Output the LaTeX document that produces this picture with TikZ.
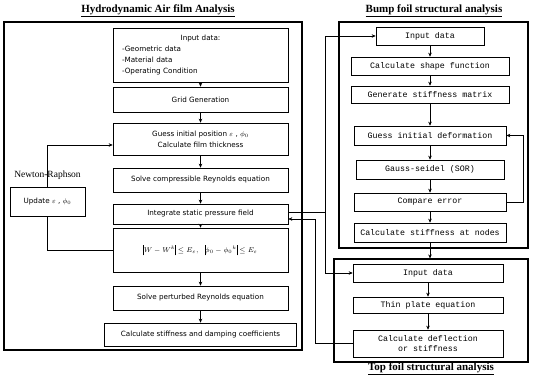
\documentclass[tikz,border=0pt]{standalone}
\usepackage{fontspec}
\setmainfont{Liberation Serif}
\newfontfamily\lboxfont{DejaVu Sans}
\newfontfamily\rboxfont{Liberation Mono}
\usetikzlibrary{arrows.meta}
\newcommand{\normbar}{\mathord{\rule[-2.5pt]{0.4pt}{10.5pt}}}

\begin{document}
\begin{tikzpicture}[x=1pt, y=-1pt,
  sz/.style 2 args={minimum width=#1pt, minimum height=#2pt},
  lbox/.style={draw, line width=0.6pt, inner sep=1pt, align=center,
    font=\lboxfont\fontsize{7.2}{11}\selectfont},
  rbox/.style={draw, line width=0.6pt, inner sep=1pt, align=center,
    font=\rboxfont\fontsize{8.3}{10}\selectfont},
  frame/.style={draw, line width=1.1pt, inner sep=0pt},
  title/.style={font=\bfseries\fontsize{11}{13}\selectfont},
  arr/.style={-{Stealth[length=4pt,width=3.5pt]}, line width=0.7pt},
  link/.style={line width=0.7pt}]
  \useasboundingbox (0,0) rectangle (533,377);

  % Frames and titles
  \node[frame, sz={298}{328}] (hframe) at (153,186) {};
  \node[frame, sz={189}{226}] (bframe) at (433.5,135) {};
  \node[frame, sz={194}{103}] (tframe) at (431,310.5) {};
  \node[title] (htitle) at (158,11) {\underline{Hydrodynamic Air film Analysis}};
  \node[title] (btitle) at (434,11) {\underline{Bump foil structural analysis}};
  \node[title] (ttitle) at (431,369) {\underline{Top foil structural analysis}};

  % Air film analysis
  \node[lbox, sz={175}{54}, text width=157pt, align=left] (inp) at (200.5,55)
    {\makebox[157pt]{Input data:}\\-Geometric data\\-Material data\\-Operating Condition};
  \node[lbox, sz={175}{25}] (grid) at (200.5,99.5) {Grid Generation};
  \node[lbox, sz={175}{32}] (guess) at (200.5,139)
    {Guess initial position $\varepsilon$ , $\phi_0$\\Calculate film thickness};
  \node[lbox, sz={175}{24}] (solve) at (200.5,180) {Solve compressible Reynolds equation};
  \node[lbox, sz={175}{20}] (integ) at (200.5,214) {Integrate static pressure field};
  \node[lbox, sz={175}{44}] (conv) at (200.5,250)
    {$\normbar W-W^{k}\normbar\le E_{\varepsilon},\ \ \normbar\phi_0-{\phi_0}^{k}\normbar\le E_{\varepsilon}$};
  \node[lbox, sz={175}{24}] (pert) at (200.5,298) {Solve perturbed Reynolds equation};
  \node[lbox, sz={192}{23}] (coef) at (200.5,334.5) {Calculate stiffness and damping coefficients};

  % Newton-Raphson loop
  \node[font=\fontsize{9.5}{11}\selectfont] (nr) at (47.5,175) {Newton-Raphson};
  \node[lbox, sz={75}{29}] (upd) at (47.5,201.5) {Update $\varepsilon$ , $\phi_0$};

  % Bump foil analysis
  \node[rbox, sz={108}{18}] (binp) at (430,36) {Input data};
  \node[rbox, sz={158}{18}] (bshape) at (430,66) {Calculate shape function};
  \node[rbox, sz={158}{17}] (bmat) at (430,94.5) {Generate stiffness matrix};
  \node[rbox, sz={152}{19}] (bguess) at (430,135.5) {Guess initial deformation};
  \node[rbox, sz={148}{19}] (bgs) at (430,169.5) {Gauss-seidel (SOR)};
  \node[rbox, sz={152}{18}] (bcmp) at (430,202) {Compare error};
  \node[rbox, sz={152}{19}] (bstf) at (430,232.5) {Calculate stiffness at nodes};

  % Top foil analysis
  \node[rbox, sz={150}{18}] (tinp) at (428,273) {Input data};
  \node[rbox, sz={150}{16}] (tplate) at (428,305) {Thin plate equation};
  \node[rbox, sz={150}{27}] (tcalc) at (428,343.5) {Calculate deflection\\or stiffness};

  % Flow arrows
  \foreach \a/\b in {inp/grid, grid/guess, guess/solve, solve/integ, integ/conv,
                     conv/pert, pert/coef, binp/bshape, bshape/bmat, bmat/bguess,
                     bguess/bgs, bgs/bcmp, bcmp/bstf, tinp/tplate, tplate/tcalc}
    \draw[arr] (\a) -- (\b);
  \draw[arr] (bstf.south) -- (bstf.south |- tframe.north);
  \draw[arr] (bcmp.east) -- ++(17,0) |- (bguess.east);
  \draw[arr] (upd.north) |- ([yshift=-6pt]guess.west);
  \draw[link] (conv.west) -| (upd.south);

  % Pressure to foils and back
  \coordinate (bus) at (325,0);
  \coordinate (ret) at (315,0);
  \draw[link] ([yshift=2pt]integ.east) -- ([yshift=2pt]integ.east -| bus);
  \draw[arr] ([yshift=2pt]integ.east -| bus) |- (binp.west);
  \draw[arr] ([yshift=2pt]integ.east -| bus) |- (tinp.west);
  \draw[arr, line width=0.4pt] (tcalc.west) -| ([yshift=-5pt]integ.east -| ret)
    -- ([yshift=-5pt]integ.east);
\end{tikzpicture}
\end{document}
